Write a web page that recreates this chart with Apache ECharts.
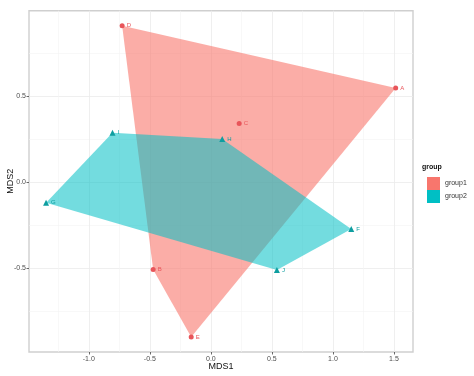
<!DOCTYPE html>
<html>
<head>
<meta charset="utf-8">
<script src="https://cdn.jsdelivr.net/npm/echarts@6/dist/echarts.min.js"></script>
<style>
html,body{margin:0;padding:0;background:#fff;}
#chart{width:474px;height:376px;}
</style>
</head>
<body>
<div id="chart"></div>
<script>
// MDS coordinates
var g1Names = ['A', 'B', 'C', 'D', 'E'];
var g1X = [1.514, -0.473, 0.232, -0.727, -0.161];
var g1Y = [0.547, -0.508, 0.341, 0.909, -0.901];

var g2Names = ['F', 'G', 'H', 'I', 'J'];
var g2X = [1.150, -1.350, 0.093, -0.806, 0.541];
var g2Y = [-0.273, -0.120, 0.250, 0.287, -0.512];

var xMajor = [-1.0, -0.5, 0.0, 0.5, 1.0, 1.5];
var xMinor = [-1.25, -0.75, -0.25, 0.25, 0.75, 1.25];
var yMajor = [-0.5, 0.0, 0.5];
var yMinor = [-0.75, -0.25, 0.25, 0.75];

var col1 = '#F8766D', col2 = '#00BFC4';

function pts(xs, ys, names){
	var out = [];
	for(var i = 0;i<xs.length;i++){
		out.push([xs[i], ys[i], names[i]]);
	}
	return out;
}

// monotone chain hull
function hull(p){
	var a = p.slice().sort(function(m,n){ return m[0]-n[0] || m[1]-n[1]; });
	function cross(o,u,v){ return (u[0]-o[0])*(v[1]-o[1]) - (u[1]-o[1])*(v[0]-o[0]); }
	var lo = [], up = [];
	for(var i = 0;i<a.length;i++){
		while(lo.length>=2 && cross(lo[lo.length-2],lo[lo.length-1],a[i])<=0) lo.pop();
		lo.push(a[i]);
	}
	for(var j = a.length-1;j>=0;j--){
		while(up.length>=2 && cross(up[up.length-2],up[up.length-1],a[j])<=0) up.pop();
		up.push(a[j]);
	}
	lo.pop(); up.pop();
	return lo.concat(up);
}

var p1 = pts(g1X, g1Y, g1Names), p2 = pts(g2X, g2Y, g2Names);

function polySeries(name, data, color, alpha){
	return {
		name: name,
		type: 'custom',
		itemStyle: { color: color },
		data: hull(data),
		renderItem: function(params, api){
			if(params.dataIndex !== 0) return null;
			var h = hull(data), c = [];
			for(var i = 0;i<h.length;i++) c.push(api.coord([h[i][0], h[i][1]]));
			return {
				type: 'polygon',
				shape: { points: c },
				style: { fill: color, opacity: alpha, stroke: null }
			};
		},
		z: 2
	};
}

function pointSeries(name, data, color, labColor, symbol, size){
	return {
		name: name,
		type: 'scatter',
		symbol: symbol,
		symbolSize: size,
		itemStyle: { color: color, opacity: 1 },
		label: {
			show: true,
			position: 'right',
			distance: 2,
			fontSize: 6,
			color: labColor,
			formatter: function(p){ return p.data[2]; }
		},
		emphasis: { disabled: true },
		data: data,
		z: 4
	};
}

var tickLab = { fontSize: 7, color: '#4D4D4D', fontFamily: 'Liberation Sans' };
var major = { show: true, lineStyle: { color: '#EBEBEB', width: 0.8 } };
var minor = { show: true, lineStyle: { color: '#F4F4F4', width: 0.6 } };

var myChart = echarts.init(document.getElementById('chart'));
var option = {
	animation: false,
	backgroundColor: '#fff',
	grid: {
		left: 29, top: 10.7, right: 61, bottom: 24,
		outerBoundsMode: 'none', containLabel: false,
		show: true, borderColor: '#CFCFCF', borderWidth: 1.4, backgroundColor: '#fff'
	},
	legend: {
		orient: 'vertical',
		left: 422, top: 172,
		itemWidth: 13, itemHeight: 13, itemGap: 0,
		icon: 'rect',
		selectedMode: false,
		textStyle: { fontSize: 7, color: '#333', fontFamily: 'Liberation Sans' },
		data: ['group1', 'group2']
	},
	graphic: [{
		type: 'text', left: 422, top: 164,
		style: { text: 'group', fontSize: 7, fontWeight: 'bold', fill: '#111', fontFamily: 'Liberation Sans' }
	}],
	xAxis: [{
		type: 'value', min: -1.49, max: 1.656, position: 'bottom',
		name: 'MDS1', nameLocation: 'middle', nameGap: 10, nameMoveOverlap: false,
		nameTextStyle: { fontSize: 9, color: '#111', fontFamily: 'Liberation Sans' },
		axisLine: { show: false, onZero: false },
		axisTick: { show: true, length: 2.5, customValues: xMajor, lineStyle: { color: '#444', width: 0.8 } },
		axisLabel: { customValues: xMajor, margin: 4, formatter: function(v){ return v.toFixed(1); } , fontSize: tickLab.fontSize, color: tickLab.color, fontFamily: tickLab.fontFamily },
		splitLine: major
	}, {
		type: 'value', min: -1.49, max: 1.656, position: 'top',
		axisLine: { show: false, onZero: false },
		axisTick: { show: false, customValues: xMinor },
		axisLabel: { show: false, customValues: xMinor },
		splitLine: minor
	}],
	yAxis: [{
		type: 'value', min: -0.988, max: 0.996, position: 'left',
		name: 'MDS2', nameLocation: 'middle', nameGap: 14, nameMoveOverlap: false,
		nameTextStyle: { fontSize: 9, color: '#111', fontFamily: 'Liberation Sans' },
		axisLine: { show: false, onZero: false },
		axisTick: { show: true, length: 2.5, customValues: yMajor, lineStyle: { color: '#444', width: 0.8 } },
		axisLabel: { customValues: yMajor, margin: 3, formatter: function(v){ return v.toFixed(1); }, fontSize: tickLab.fontSize, color: tickLab.color, fontFamily: tickLab.fontFamily },
		splitLine: major
	}, {
		type: 'value', min: -0.988, max: 0.996, position: 'right',
		axisLine: { show: false, onZero: false },
		axisTick: { show: false, customValues: yMinor },
		axisLabel: { show: false, customValues: yMinor },
		splitLine: minor
	}],
	series: [
		polySeries('group1', p1, col1, 0.6),
		polySeries('group2', p2, col2, 0.55),
		pointSeries('group1', p1, '#E8555A', '#E8555A', 'circle', 5),
		pointSeries('group2', p2, '#0E9EA0', '#0E9EA0', 'triangle', 6)
	]
};
myChart.setOption(option);
</script>
</body>
</html>
